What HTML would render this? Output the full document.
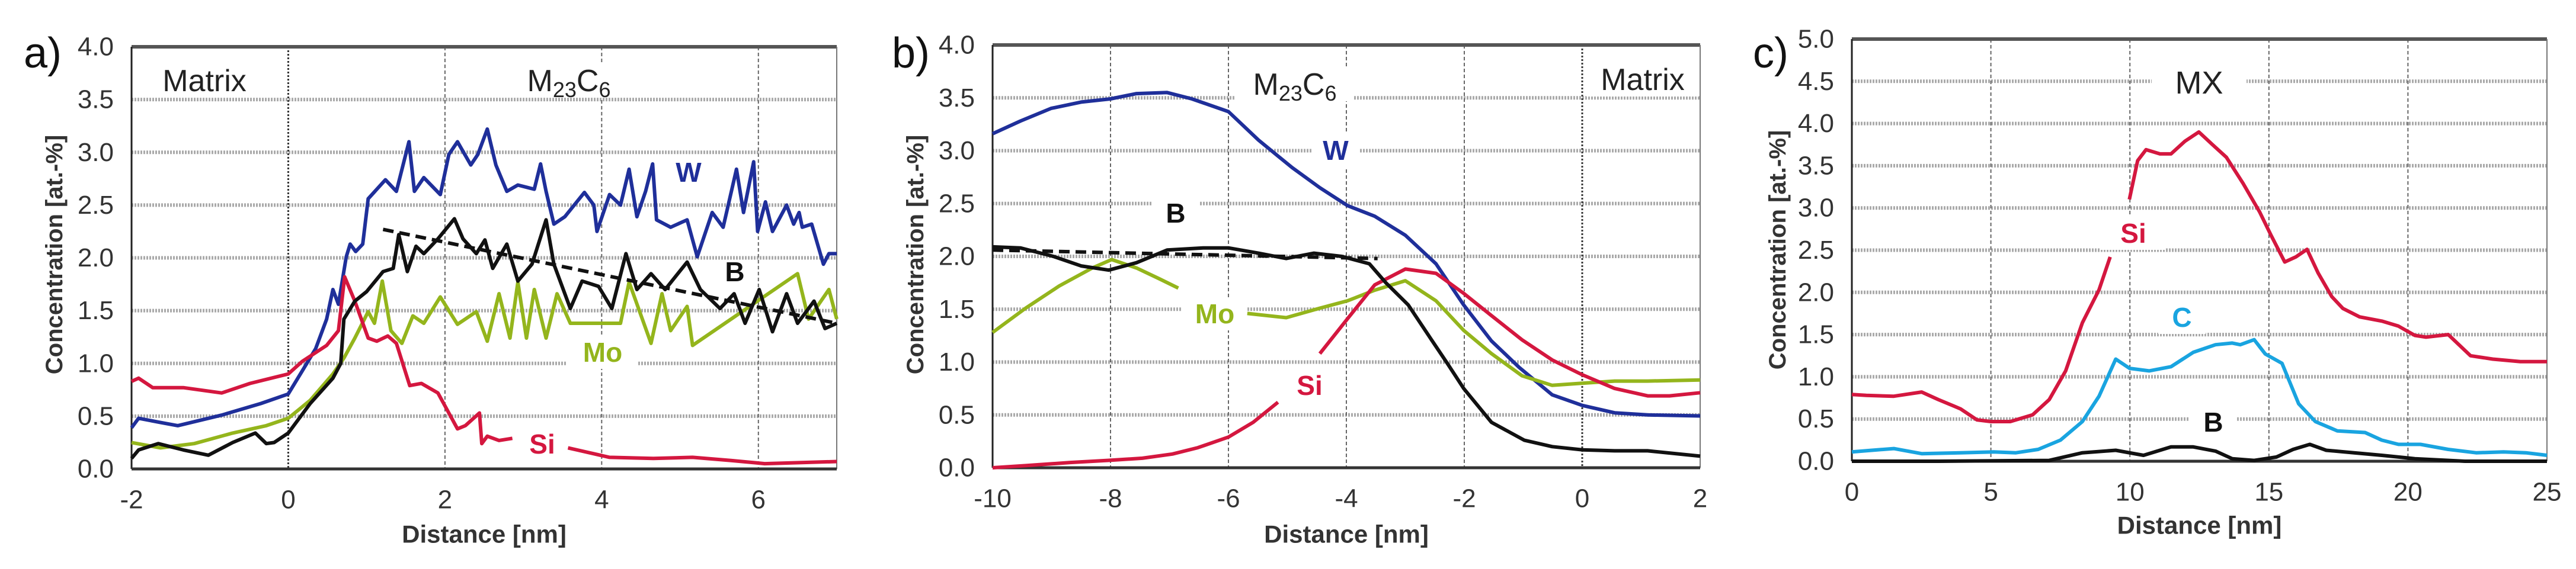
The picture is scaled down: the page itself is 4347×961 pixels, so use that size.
<!DOCTYPE html>
<html><head><meta charset="utf-8"><style>
html,body{margin:0;padding:0;background:#fff;}
svg{display:block;font-family:"Liberation Sans",Arial,sans-serif;}
</style></head><body>
<svg id="fig" width="4347" height="961" viewBox="0 0 4347 961" xmlns="http://www.w3.org/2000/svg"></svg>
<script>
// ---- Panel a data ----
const aTicksX = [-2, 0, 2, 4, 6];
const aTicksY = [0, 0.5, 1, 1.5, 2, 2.5, 3, 3.5, 4];
const aWx = [-2,-1.91,-1.63,-1.41,-0.85,-0.35,0,0.18,0.35,0.49,0.57,0.64,0.74,0.79,0.86,0.95,1.02,1.24,1.38,1.54,1.61,1.73,1.94,2.05,2.16,2.33,2.42,2.54,2.65,2.79,2.93,3.14,3.22,3.29,3.39,3.53,3.78,3.90,3.94,4.10,4.24,4.35,4.45,4.56,4.65,4.70,4.88,5.09,5.22,5.41,5.55,5.72,5.81,5.94,5.99,6.09,6.18,6.36,6.45,6.52,6.56,6.68,6.83,6.90,7.0];
const aWy = [0.39,0.48,0.44,0.41,0.51,0.62,0.71,0.93,1.14,1.42,1.70,1.56,2.01,2.13,2.06,2.13,2.56,2.74,2.63,3.10,2.63,2.76,2.60,2.98,3.10,2.88,2.98,3.22,2.88,2.63,2.69,2.65,2.89,2.63,2.32,2.39,2.62,2.50,2.25,2.60,2.50,2.84,2.39,2.63,2.89,2.36,2.29,2.36,2.01,2.43,2.29,2.84,2.43,2.91,2.25,2.53,2.25,2.50,2.32,2.43,2.29,2.32,1.94,2.04,2.04];
const aBx = [-2,-1.91,-1.66,-1.34,-1.02,-0.71,-0.42,-0.28,-0.18,0,0.28,0.57,0.67,0.71,0.85,1.0,1.21,1.34,1.41,1.52,1.63,1.73,1.91,2.12,2.23,2.40,2.51,2.61,2.79,2.93,3.11,3.29,3.39,3.60,3.75,3.96,4.13,4.31,4.45,4.63,4.81,5.09,5.26,5.51,5.69,5.83,6.01,6.18,6.36,6.50,6.71,6.85,7.0];
const aBy = [0.10,0.18,0.24,0.18,0.13,0.25,0.34,0.24,0.25,0.34,0.62,0.86,1.00,1.42,1.59,1.68,1.87,1.90,2.22,1.87,2.11,2.04,2.18,2.37,2.18,2.04,2.17,1.90,2.13,1.78,1.94,2.36,1.94,1.52,1.78,1.73,1.52,2.04,1.70,1.85,1.70,1.96,1.70,1.52,1.66,1.38,1.70,1.30,1.66,1.38,1.59,1.33,1.38];
const aBtrendX = [1.21, 7.0];
const aBtrendY = [2.27, 1.38];
const aMox = [-2,-1.63,-1.20,-0.71,-0.28,0,0.28,0.57,0.71,0.85,1.02,1.10,1.20,1.31,1.45,1.59,1.73,1.94,2.16,2.40,2.54,2.69,2.83,2.93,3.04,3.14,3.29,3.43,3.60,4.24,4.35,4.63,4.77,4.88,5.09,5.16,6.50,6.64,6.90,7.0];
const aMoy = [0.25,0.20,0.24,0.34,0.41,0.48,0.65,0.90,1.05,1.24,1.49,1.38,1.78,1.31,1.19,1.45,1.38,1.63,1.37,1.49,1.21,1.66,1.24,1.77,1.24,1.70,1.24,1.66,1.38,1.38,1.77,1.19,1.66,1.31,1.54,1.17,1.85,1.42,1.70,1.42];
const aSix = [-2,-1.91,-1.73,-1.34,-0.85,-0.49,0,0.18,0.49,0.64,0.72,0.85,1.02,1.13,1.27,1.38,1.55,1.70,1.91,2.16,2.26,2.44,2.47,2.54,2.69,2.86,null,3.57,4.10,4.66,5.16,5.65,6.08,7.0];
const aSiy = [0.83,0.86,0.77,0.77,0.72,0.81,0.90,1.02,1.17,1.31,1.82,1.59,1.24,1.21,1.26,1.19,0.79,0.81,0.72,0.38,0.41,0.53,0.24,0.31,0.27,0.29,null,0.20,0.11,0.10,0.11,0.08,0.05,0.07];
// ---- Panel b data ----
const bTicksX = [-10, -8, -6, -4, -2, 0, 2];
const bTicksY = [0, 0.5, 1, 1.5, 2, 2.5, 3, 3.5, 4];
const bWx = [-10,-9.53,-9.01,-8.5,-8.0,-7.56,-7.04,-6.62,-6.0,-5.49,-4.92,-4.45,-3.98,-3.52,-3.0,-2.48,-2.01,-1.54,-1.07,-0.51,0,0.55,1.11,2.0];
const bWy = [3.16,3.28,3.40,3.46,3.49,3.54,3.55,3.49,3.37,3.10,2.84,2.65,2.48,2.38,2.20,1.93,1.54,1.20,0.95,0.69,0.59,0.52,0.50,0.49];
const bBx = [-10,-9.53,-8.97,-8.5,-8.03,-7.56,-7.04,-6.43,-6.0,-5.49,-5.02,-4.55,-4.08,-3.61,-3.33,-2.95,-2.58,-2.29,-2.01,-1.54,-0.98,-0.51,0,0.55,1.11,2.0];
const bBy = [2.09,2.08,2.0,1.91,1.87,1.94,2.06,2.08,2.08,2.03,1.98,2.03,2.0,1.93,1.75,1.54,1.23,0.99,0.75,0.43,0.26,0.20,0.17,0.16,0.16,0.11];
const bBtrendX = [-10, -3.47];
const bBtrendY = [2.06, 1.98];
const bMox = [-10,-9.44,-8.87,-8.31,-7.98,-7.56,-7.18,-6.85,null,-5.68,-5.02,-4.45,-3.98,-3.52,-3.0,-2.48,-2.01,-1.54,-1.02,-0.51,0,0.55,1.11,2.0];
const bMoy = [1.28,1.51,1.72,1.89,1.97,1.89,1.79,1.70,null,1.46,1.42,1.51,1.58,1.68,1.77,1.58,1.30,1.08,0.87,0.78,0.80,0.82,0.82,0.83];
const bSix = [-10,-9.44,-8.68,-8.03,-7.46,-6.95,-6.52,-6.0,-5.58,-5.16,null,-4.45,-3.98,-3.52,-3.0,-2.48,-2.01,-1.54,-1.02,-0.51,0,0.55,1.11,1.48,2.0];
const bSiy = [0.0,0.02,0.05,0.07,0.09,0.13,0.19,0.29,0.43,0.62,null,1.08,1.41,1.73,1.88,1.84,1.65,1.44,1.21,1.02,0.88,0.75,0.68,0.68,0.71];
// ---- Panel c data ----
const cTicksX = [0, 5, 10, 15, 20, 25];
const cTicksY = [0, 0.5, 1, 1.5, 2, 2.5, 3, 3.5, 4, 4.5, 5];
const cSix = [0,0.52,1.51,2.51,3.11,3.91,4.5,5.0,5.7,6.5,7.1,7.69,8.29,8.89,9.29,null,9.98,10.28,10.58,11.08,11.48,11.98,12.48,12.97,13.47,14.07,14.67,15.07,15.57,15.97,16.37,16.77,17.26,17.66,18.26,19.06,19.66,20.25,20.65,21.45,22.25,23.05,24.04,25];
const cSiy = [0.79,0.78,0.77,0.82,0.73,0.62,0.49,0.47,0.47,0.55,0.73,1.07,1.64,2.03,2.42,null,3.10,3.56,3.69,3.64,3.64,3.79,3.90,3.75,3.60,3.29,2.95,2.68,2.36,2.42,2.51,2.23,1.95,1.81,1.71,1.66,1.60,1.49,1.47,1.50,1.25,1.21,1.18,1.18];
const cCx = [0,0.72,1.51,2.51,3.91,5.1,5.9,6.7,7.5,8.29,8.89,9.49,9.99,10.69,11.48,12.28,13.08,13.68,13.97,14.47,14.87,15.47,16.07,16.67,17.46,18.46,19.06,19.66,20.45,21.45,22.45,23.44,24.24,25];
const cCy = [0.11,0.13,0.15,0.09,0.10,0.11,0.10,0.14,0.25,0.47,0.77,1.21,1.10,1.07,1.12,1.29,1.38,1.40,1.38,1.44,1.27,1.16,0.68,0.47,0.36,0.34,0.25,0.20,0.20,0.14,0.10,0.11,0.10,0.07];
const cBx = [0,3.11,7.1,8.29,9.49,10.49,11.48,12.28,13.08,13.68,14.47,15.27,15.87,16.47,17.06,18.06,19.06,20.25,22.05,25];
const cBy = [0,0,0.01,0.10,0.13,0.07,0.17,0.17,0.12,0.03,0.01,0.05,0.14,0.20,0.13,0.10,0.07,0.03,0,0];

const NS = "http://www.w3.org/2000/svg";
const svg = document.getElementById('fig');
function mk(tag, attrs, parent) {
  const e = document.createElementNS(NS, tag);
  for (const k in attrs) e.setAttribute(k, attrs[k]);
  (parent || svg).appendChild(e);
  return e;
}
function txt(s, x, y, size, fill, weight, anchor, parent) {
  const t = mk('text', {x: x, y: y, 'font-size': size, fill: fill, 'font-weight': weight || 'normal', 'text-anchor': anchor || 'middle', 'dominant-baseline': 'central'}, parent);
  t.textContent = s;
  return t;
}
function panel(cfg) {
  const g = mk('g', {});
  
  
  const sx = v => cfg.L + (v - cfg.x0) / (cfg.x1 - cfg.x0) * (cfg.R - cfg.L);
  const sy = v => cfg.B - (v - cfg.y0) / (cfg.y1 - cfg.y0) * (cfg.B - cfg.T);
  cfg.ty.forEach(v => {
    if (v === cfg.y0 || v === cfg.y1) return;
    const l = mk('line', {x1: cfg.L, x2: cfg.R, y1: sy(v), y2: sy(v), stroke: '#aaa', 'stroke-width': 6, 'stroke-dasharray': '3 2'}, g);
    
    
  });
  cfg.tx.forEach(v => {
    if (v === cfg.x0 || v === cfg.x1) return;
    const dark = cfg.zeroDark && v === 0;
    const l = mk('line', {x1: sx(v), x2: sx(v), y1: cfg.T, y2: cfg.B, stroke: dark ? '#333' : '#666', 'stroke-width': dark ? 3 : 2, 'stroke-dasharray': dark ? '3 3' : '6 4'}, g);
    
    
  });
  cfg.labels.forEach(lb => {
    mk('rect', {x: lb.x - lb.w / 2, y: lb.y - 28, width: lb.w, height: 56, fill: '#fff'}, g);
  });
  mk('line', {x1: cfg.L, x2: cfg.R, y1: cfg.T, y2: cfg.T, stroke: '#555', 'stroke-width': 6}, g);
  mk('line', {x1: cfg.R, x2: cfg.R, y1: cfg.T, y2: cfg.B, stroke: '#777', 'stroke-width': 2}, g);
  mk('line', {x1: cfg.L, x2: cfg.L, y1: cfg.T, y2: cfg.B, stroke: '#222', 'stroke-width': 3}, g);
  const xa = mk('line', {x1: cfg.L, x2: cfg.R, y1: cfg.B, y2: cfg.B, stroke: '#333', 'stroke-width': 5}, g);
  
  
  cfg.series.forEach(s => {
    let d = '', pen = false;
    for (let i = 0; i < s.x.length; i++) {
      if (s.x[i] === null) { pen = false; continue; }
      d += (pen ? 'L' : 'M') + sx(s.x[i]).toFixed(1) + ' ' + sy(s.y[i]).toFixed(1) + ' ';
      pen = true;
    }
    const p = mk('path', {d: d, fill: 'none', stroke: s.color, 'stroke-width': s.w || 6, 'stroke-linejoin': 'round', 'stroke-dasharray': s.dash || 'none'}, g);
    
    
  });
  cfg.labels.forEach(lb => {
    const t = txt(lb.t, lb.x, lb.y, lb.size, lb.color, lb.bold ? 'bold' : 'normal', 'middle', g);
    
    
    if (lb.sub) {
      t.textContent = '';
      const a = mk('tspan', {}, t); a.textContent = 'M';
      const b = mk('tspan', {'font-size': 36, dy: 14}, t); b.textContent = '23';
      const c = mk('tspan', {dy: -14}, t); c.textContent = 'C';
      const dd = mk('tspan', {'font-size': 36, dy: 14}, t); dd.textContent = '6';
    }
  });
  cfg.tx.forEach(v => {
    const t = txt(String(v), sx(v), cfg.B + 52, 44, '#333', 'normal', 'middle', g);
    
    
  });
  cfg.ty.forEach(v => {
    const t = txt(v.toFixed(1), cfg.L - 30, sy(v), 44, '#333', 'normal', 'end', g);
    
    
  });
  const xt = txt('Distance [nm]', (cfg.L + cfg.R) / 2, cfg.xtY, 42, '#333', 'bold', 'middle', g);
  
  
  const yt = txt('Concentration [at.-%]', 0, 0, 40, '#333', 'bold', 'middle', g);
  yt.setAttribute('transform', 'translate(' + cfg.ytX + ',' + cfg.ytY + ') rotate(-90)');
  
  
  const pl = txt(cfg.tag, cfg.tagX, 90, 72, '#111', 'normal', 'start', g);
  
  
}
const BL = '#1f2f9a', BK = '#111', GR = '#94b51c', RD = '#d4173f', CY = '#19a4e0';
panel({name: 'panel-a', L: 222, R: 1412, T: 79, B: 792, x0: -2, x1: 7, y0: 0, y1: 4, tx: aTicksX, ty: aTicksY, zeroDark: true,
  xtY: 902, ytX: 92, ytY: 430, tag: 'a)', tagX: 40,
  series: [
    {name: 'w-line', x: aWx, y: aWy, color: BL},
    {name: 'mo-line', x: aMox, y: aMoy, color: GR},
    {name: 'si-line', x: aSix, y: aSiy, color: RD},
    {name: 'b-line', x: aBx, y: aBy, color: BK},
    {name: 'b-trend', x: aBtrendX, y: aBtrendY, color: BK, dash: '18 10'}],
  labels: [
    {t: 'Matrix', x: 345, y: 137, size: 52, color: '#222', w: 210, name: 'matrix-label'},
    {t: 'M23C6', x: 960, y: 137, size: 52, color: '#222', w: 200, name: 'm23c6-label', sub: true},
    {t: 'W', x: 1162, y: 291, size: 46, color: BL, bold: true, w: 60, name: 'w-label'},
    {t: 'B', x: 1240, y: 459, size: 46, color: BK, bold: true, w: 0, name: 'b-label'},
    {t: 'Mo', x: 1017, y: 595, size: 46, color: GR, bold: true, w: 120, name: 'mo-label'},
    {t: 'Si', x: 915, y: 750, size: 46, color: RD, bold: true, w: 80, name: 'si-label'}]});
panel({name: 'panel-b', L: 1675, R: 2869, T: 76, B: 790, x0: -10, x1: 2, y0: 0, y1: 4, tx: bTicksX, ty: bTicksY, zeroDark: true,
  xtY: 902, ytX: 1545, ytY: 430, tag: 'b)', tagX: 1505,
  series: [
    {name: 'w-line', x: bWx, y: bWy, color: BL},
    {name: 'mo-line', x: bMox, y: bMoy, color: GR},
    {name: 'si-line', x: bSix, y: bSiy, color: RD},
    {name: 'b-line', x: bBx, y: bBy, color: BK},
    {name: 'b-trend', x: bBtrendX, y: bBtrendY, color: BK, dash: '18 10'}],
  labels: [
    {t: 'M23C6', x: 2185, y: 143, size: 52, color: '#222', w: 200, name: 'm23c6-label', sub: true},
    {t: 'Matrix', x: 2772, y: 135, size: 52, color: '#222', w: 190, name: 'matrix-label'},
    {t: 'W', x: 2254, y: 254, size: 46, color: BL, bold: true, w: 80, name: 'w-label'},
    {t: 'B', x: 1984, y: 360, size: 46, color: BK, bold: true, w: 80, name: 'b-label'},
    {t: 'Mo', x: 2050, y: 530, size: 46, color: GR, bold: true, w: 110, name: 'mo-label'},
    {t: 'Si', x: 2210, y: 651, size: 46, color: RD, bold: true, w: 0, name: 'si-label'}]});
panel({name: 'panel-c', L: 3125, R: 4298, T: 66, B: 779, x0: 0, x1: 25, y0: 0, y1: 5, tx: cTicksX, ty: cTicksY, zeroDark: false,
  xtY: 887, ytX: 3000, ytY: 422, tag: 'c)', tagX: 2958,
  series: [
    {name: 'si-line', x: cSix, y: cSiy, color: RD},
    {name: 'c-line', x: cCx, y: cCy, color: CY},
    {name: 'b-line', x: cBx, y: cBy, color: BK}],
  labels: [
    {t: 'MX', x: 3711, y: 140, size: 54, color: '#222', w: 160, name: 'mx-label'},
    {t: 'Si', x: 3600, y: 394, size: 46, color: RD, bold: true, w: 110, name: 'si-label'},
    {t: 'C', x: 3682, y: 536, size: 46, color: CY, bold: true, w: 80, name: 'c-label'},
    {t: 'B', x: 3735, y: 713, size: 46, color: BK, bold: true, w: 80, name: 'b-label'}]});
</script>
</body></html>
